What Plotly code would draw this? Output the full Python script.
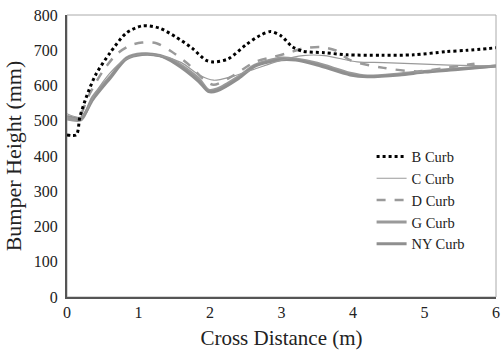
import plotly.graph_objects as go

# ---- data ----
b_x = [0, 0.13, 0.18, 0.27, 0.4, 0.6, 0.83, 1.05, 1.29, 1.52, 1.75, 1.94, 2.05, 2.25, 2.5, 2.7, 2.85, 3.0, 3.15, 3.3, 3.6, 3.92, 4.4, 4.85, 5.3, 5.6, 6.0]
b_y = [460, 460, 510, 567, 630, 692, 749, 769, 763, 738, 706, 672, 667, 675, 715, 742, 753, 740, 710, 697, 693, 687, 686, 687, 696, 700, 707]

c_x = [0, 0.2, 0.4, 0.6, 0.8, 1.0, 1.3, 1.6, 1.85, 2.05, 2.3, 2.6, 3.0, 3.3, 3.6, 4.06, 4.43, 5.35, 6.0]
c_y = [520, 510, 580, 635, 672, 688, 685, 665, 630, 615, 625, 645, 672, 685, 685, 667, 665, 658, 655]

d_x = [0, 0.15, 0.3, 0.5, 0.7, 0.9, 1.05, 1.25, 1.45, 1.7, 1.9, 2.05, 2.3, 2.63, 2.9, 3.09, 3.3, 3.55, 3.75, 3.96, 4.43, 4.9, 5.3, 5.7]
d_y = [510, 505, 570, 640, 690, 715, 722, 720, 698, 660, 620, 602, 625, 667, 682, 692, 705, 709, 700, 672, 650, 640, 650, 662]

g_x = [0, 0.2, 0.36, 0.6, 0.83, 1.05, 1.3, 1.52, 1.84, 1.98, 2.1, 2.4, 2.63, 3.0, 3.2, 3.5, 3.96, 4.2, 4.65, 5.0, 5.5, 6.0]
g_y = [505, 503, 567, 624, 678, 690, 685, 667, 620, 587, 590, 625, 658, 678, 675, 663, 635, 627, 633, 640, 648, 655]

ny_x = [0, 0.2, 0.36, 0.6, 0.83, 1.05, 1.3, 1.52, 1.84, 1.98, 2.1, 2.4, 2.63, 3.0, 3.2, 3.5, 3.96, 4.2, 4.65, 5.0, 5.5, 6.0]
ny_y = [512, 508, 560, 620, 675, 688, 684, 662, 612, 583, 585, 620, 655, 673, 672, 658, 630, 625, 630, 638, 646, 655]

series_names = ["B Curb", "C Curb", "D Curb", "G Curb", "NY Curb"]
x_ticks = [0, 1, 2, 3, 4, 5, 6]
y_ticks = [0, 100, 200, 300, 400, 500, 600, 700, 800]

FONT = "Liberation Serif"
GRAY = "#9a9a9a"

fig = go.Figure()
fig.add_trace(go.Scatter(x=g_x, y=g_y, name=series_names[3], mode="lines",
                         line=dict(color=GRAY, width=3, shape="spline", smoothing=0.8), legendrank=4))
fig.add_trace(go.Scatter(x=ny_x, y=ny_y, name=series_names[4], mode="lines",
                         line=dict(color="#8f8f8f", width=3, shape="spline", smoothing=0.8), legendrank=5))
fig.add_trace(go.Scatter(x=c_x, y=c_y, name=series_names[1], mode="lines",
                         line=dict(color=GRAY, width=1.2, shape="spline", smoothing=0.8), legendrank=2))
fig.add_trace(go.Scatter(x=d_x, y=d_y, name=series_names[2], mode="lines",
                         line=dict(color=GRAY, width=2.5, dash="dash", shape="spline", smoothing=0.8), legendrank=3))
fig.add_trace(go.Scatter(x=b_x, y=b_y, name=series_names[0], mode="lines",
                         line=dict(color="black", width=3, dash="dot", shape="spline", smoothing=0.8), legendrank=1))

fig.update_layout(
    width=502, height=350,
    margin=dict(l=67, r=6, t=15, b=53),
    paper_bgcolor="white", plot_bgcolor="white",
    font=dict(family=FONT, color="#222222", size=15),
    showlegend=True,
    legend=dict(x=0.71, y=0.555, xanchor="left", yanchor="top",
                font=dict(family=FONT, size=14.5, color="#222222"),
                bgcolor="rgba(0,0,0,0)", tracegroupgap=0, itemwidth=30),
    xaxis=dict(range=[0, 6], tickvals=x_ticks, ticktext=[str(v) for v in x_ticks],
               showgrid=False, zeroline=False, showline=True, linecolor="#555555", linewidth=2,
               ticks="", tickfont=dict(family=FONT, size=16), ticklabeloverflow="allow",
               automargin=False,
               title=dict(text="Cross Distance (m)", font=dict(family=FONT, size=21), standoff=10)),
    yaxis=dict(range=[0, 800], tickvals=y_ticks, ticktext=[str(v) for v in y_ticks],
               showgrid=False, zeroline=False, showline=True, linecolor="#555555", linewidth=2,
               ticks="", tickfont=dict(family=FONT, size=16), ticklabelstandoff=4,
               automargin=False,
               title=dict(text="Bumper Height (mm)", font=dict(family=FONT, size=22), standoff=6)),
    shapes=[dict(type="rect", xref="paper", yref="paper", x0=0, y0=0, x1=1, y1=1,
                 line=dict(color="#aaaaaa", width=1), layer="below")],
)

fig.write_html("out.html")
